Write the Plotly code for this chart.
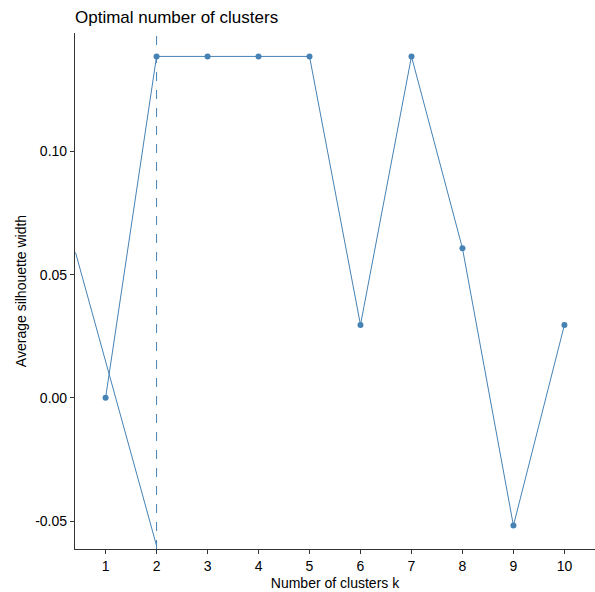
import plotly.graph_objects as go

# Average silhouette width for each number of clusters
k_values = [1, 2, 3, 4, 5, 6, 7, 8, 9, 10]
silhouette = [0.0, 0.1385, 0.1385, 0.1385, 0.1385, 0.0296, 0.1385, 0.0607, -0.0518, 0.0296]
tick_labels = [str(k) for k in k_values]

# Extra segment running from the left edge down towards k = 2
extra_x = [0.41, 2.0]
extra_y = [0.059, -0.060]

# Suggested optimal k
optimal_k = 2

line_color = "#4682B4"
axis_color = "#333333"
font_family = "Liberation Sans, Arial, sans-serif"

fig = go.Figure()

fig.add_trace(go.Scatter(
    x=extra_x, y=extra_y, mode="lines",
    line=dict(color=line_color, width=1),
    hoverinfo="skip", showlegend=False,
))

fig.add_trace(go.Scatter(
    x=k_values, y=silhouette, mode="lines+markers",
    line=dict(color=line_color, width=1),
    marker=dict(color=line_color, size=6),
    showlegend=False,
))

fig.add_vline(x=optimal_k, line=dict(color=line_color, width=1, dash="dash"))

fig.update_layout(
    width=595, height=592,
    margin=dict(l=75, r=0, t=33, b=43),
    paper_bgcolor="white", plot_bgcolor="white",
    font=dict(family=font_family, color="black"),
    title=dict(
        text="Optimal number of clusters",
        xref="paper", x=0, xanchor="left",
        yref="container", y=1 - 17 / 592, yanchor="middle",
        font=dict(size=17, color="black"),
    ),
    xaxis=dict(
        range=[0.4, 10.6],
        tickmode="array", tickvals=k_values, ticktext=tick_labels,
        showgrid=False, zeroline=False,
        showline=True, linecolor=axis_color, linewidth=1.2,
        ticks="outside", ticklen=4, tickcolor=axis_color, tickwidth=1,
        tickfont=dict(size=14, color="black"),
        title=dict(text="Number of clusters k", font=dict(size=14, color="black"), standoff=5),
    ),
    yaxis=dict(
        range=[-0.0613, 0.1480],
        tickmode="array", tickvals=[-0.05, 0.0, 0.05, 0.10],
        ticktext=["-0.05", "0.00", "0.05", "0.10"],
        showgrid=False, zeroline=False,
        showline=True, linecolor=axis_color, linewidth=1.2,
        ticks="outside", ticklen=4, tickcolor=axis_color, tickwidth=1,
        tickfont=dict(size=14, color="black"),
        title=dict(text="Average silhouette width", font=dict(size=14, color="black"), standoff=5),
    ),
)

fig.write_html("out.html")
